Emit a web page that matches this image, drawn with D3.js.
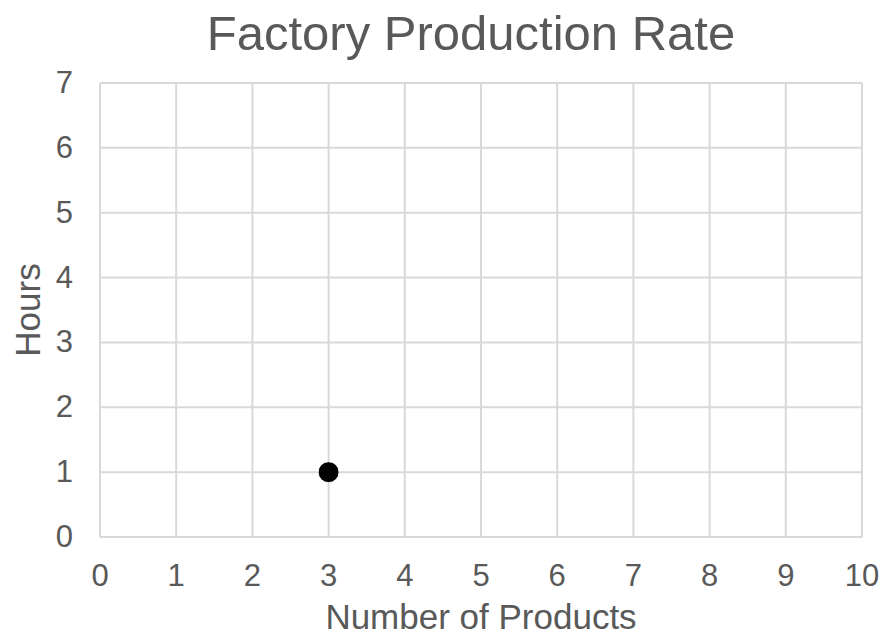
<!DOCTYPE html>
<html>
<head>
<meta charset="utf-8">
<script src="https://cdn.jsdelivr.net/npm/d3@7"></script>
<style>
  body { margin: 0; background: #fff; }
  text { font-family: "Liberation Sans", Arial, sans-serif; fill: #595959; }
</style>
</head>
<body>
<svg id="chart" width="881" height="636"></svg>
<script>
// data
const xTicks = [0, 1, 2, 3, 4, 5, 6, 7, 8, 9, 10];
const yTicks = [0, 1, 2, 3, 4, 5, 6, 7];
const products = [3];
const hours = [1];

window.addEventListener('load', () => {
    let svg = d3.select("svg#chart")
    let left = 100, right = 862, top = 83, bottom = 537;

    let x = d3.scaleLinear().domain([0, 10]).range([left, right])
    let y = d3.scaleLinear().domain([0, 7]).range([bottom, top])

    // gridlines
    svg.append("g").selectAll("line").data(xTicks).join("line")
        .attr('x1', d => x(d)).attr('x2', d => x(d))
        .attr('y1', top).attr('y2', bottom)
        .attr('stroke', '#d9d9d9').attr('stroke-width', 2)
    svg.append("g").selectAll("line").data(yTicks).join("line")
        .attr('x1', left).attr('x2', right)
        .attr('y1', d => y(d)).attr('y2', d => y(d))
        .attr('stroke', '#d9d9d9').attr('stroke-width', 2)

    // tick labels
    svg.append("g").selectAll("text").data(xTicks).join("text")
        .attr('x', d => x(d)).attr('y', 586)
        .attr('text-anchor', 'middle')
        .style('font-size', '31px')
        .text(d => d)
    svg.append("g").selectAll("text").data(yTicks).join("text")
        .attr('x', 73).attr('y', d => y(d) + 10)
        .attr('text-anchor', 'end')
        .style('font-size', '31px')
        .text(d => d)

    // points
    svg.append("g").selectAll("circle").data(products).join("circle")
        .attr('cx', d => x(d))
        .attr('cy', (d, i) => y(hours[i]))
        .attr('r', 10.5)
        .attr('fill', '#000')
        .attr('stroke', '#fff').attr('stroke-width', 1)

    // titles
    svg.append("text")
        .attr('x', 471).attr('y', 50)
        .attr('text-anchor', 'middle')
        .style('font-size', '49px')
        .text('Factory Production Rate')
    svg.append("text")
        .attr('x', 481).attr('y', 629)
        .attr('text-anchor', 'middle')
        .style('font-size', '35px')
        .text('Number of Products')
    svg.append("text")
        .attr('transform', 'translate(40,310) rotate(-90)')
        .attr('text-anchor', 'middle')
        .style('font-size', '35px')
        .text('Hours')
})
</script>
</body>
</html>
